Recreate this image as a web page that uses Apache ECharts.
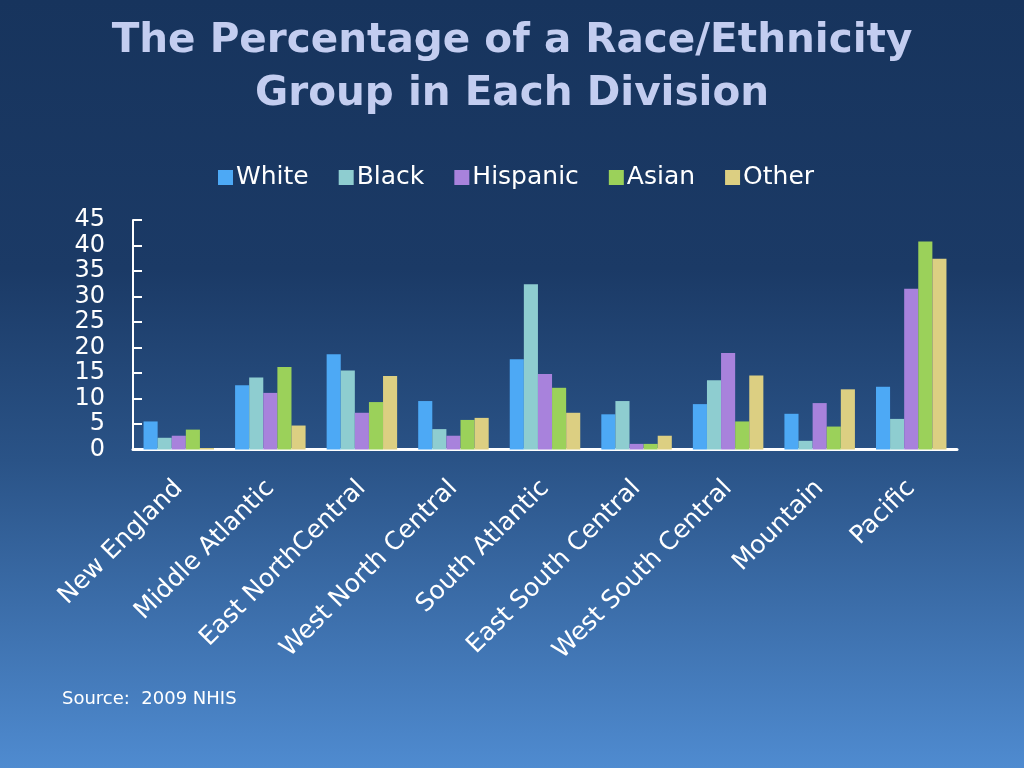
<!DOCTYPE html>
<html><head><meta charset="utf-8">
<script src="https://cdn.jsdelivr.net/npm/echarts@6/dist/echarts.min.js"></script>
<style>html,body{margin:0;padding:0;}#c{width:1024px;height:768px;}</style>
</head><body><div id="c"></div>
<script>
const categories = ["New England","Middle Atlantic","East NorthCentral","West North Central","South Atlantic","East South Central","West South Central","Mountain","Pacific"];
const white    = [5.5, 12.6, 18.7, 9.5, 17.7, 6.9, 8.9, 7.0, 12.3];
const black    = [2.3, 14.1, 15.5, 4.0, 32.4, 9.5, 13.6, 1.7, 6.0];
const hispanic = [2.7, 11.1, 7.2, 2.7, 14.8, 1.1, 18.9, 9.1, 31.5];
const asian    = [3.9, 16.2, 9.3, 5.8, 12.1, 1.1, 5.5, 4.5, 40.8];
const other    = [0.3, 4.7, 14.4, 6.2, 7.2, 2.7, 14.5, 11.8, 37.4];
const yTicks = [0,5,10,15,20,25,30,35,40,45];

const chart = echarts.init(document.getElementById('c'));
const font = 'DejaVu Sans';
function s(name, data, color){ return {name, type:'bar', data, itemStyle:{color}, barGap:'0%', barCategoryGap:'23%'}; }
chart.setOption({
  backgroundColor: {type:'linear', x:0, y:0, x2:0, y2:1, colorStops:[
    {offset:0, color:'#17345d'},{offset:0.35, color:'#1b3a66'},{offset:0.6, color:'#2a5387'},{offset:1, color:'#4f8bd0'}]},
  title: {text:'The Percentage of a Race/Ethnicity\nGroup in Each Division', left:'center', top:10,
    textStyle:{color:'#c3cdf0', fontFamily:font, fontWeight:'bold', fontSize:40.5, lineHeight:53}},
  legend: {top:160, left:213, itemWidth:15, itemHeight:15, itemGap:30, icon:'rect',
    textStyle:{color:'#ffffff', fontFamily:font, fontSize:25, padding:[0,0,0,-2]},
    data:['White','Black','Hispanic','Asian','Other']},
  grid: {left:133, right:67, top:220, bottom:318.5, containLabel:false},
  xAxis: {type:'category', data:categories,
    axisLine:{lineStyle:{color:'#ffffff', width:3}}, axisTick:{show:false},
    axisLabel:{color:'#ffffff', fontFamily:font, fontSize:25, rotate:45, margin:35, interval:0}},
  yAxis: {type:'value', min:0, max:45, interval:5,
    axisLine:{show:true, lineStyle:{color:'#ffffff', width:2}},
    axisTick:{show:true, inside:true, length:9, lineStyle:{color:'#ffffff', width:2}},
    splitLine:{show:false},
    axisLabel:{color:'#ffffff', fontFamily:font, fontSize:24, margin:28,
      formatter: v => yTicks.includes(v) ? String(v) : ''}},
  graphic: [{type:'text', left:62, top:690, style:{text:'Source:  2009 NHIS', fill:'#ffffff', font:'18px "DejaVu Sans"'}}],
  series: [s('White', white, '#4da9f5'), s('Black', black, '#8ecdd0'), s('Hispanic', hispanic, '#a882dc'), s('Asian', asian, '#9bd15a'), s('Other', other, '#dccf82')]
});
</script></body></html>
